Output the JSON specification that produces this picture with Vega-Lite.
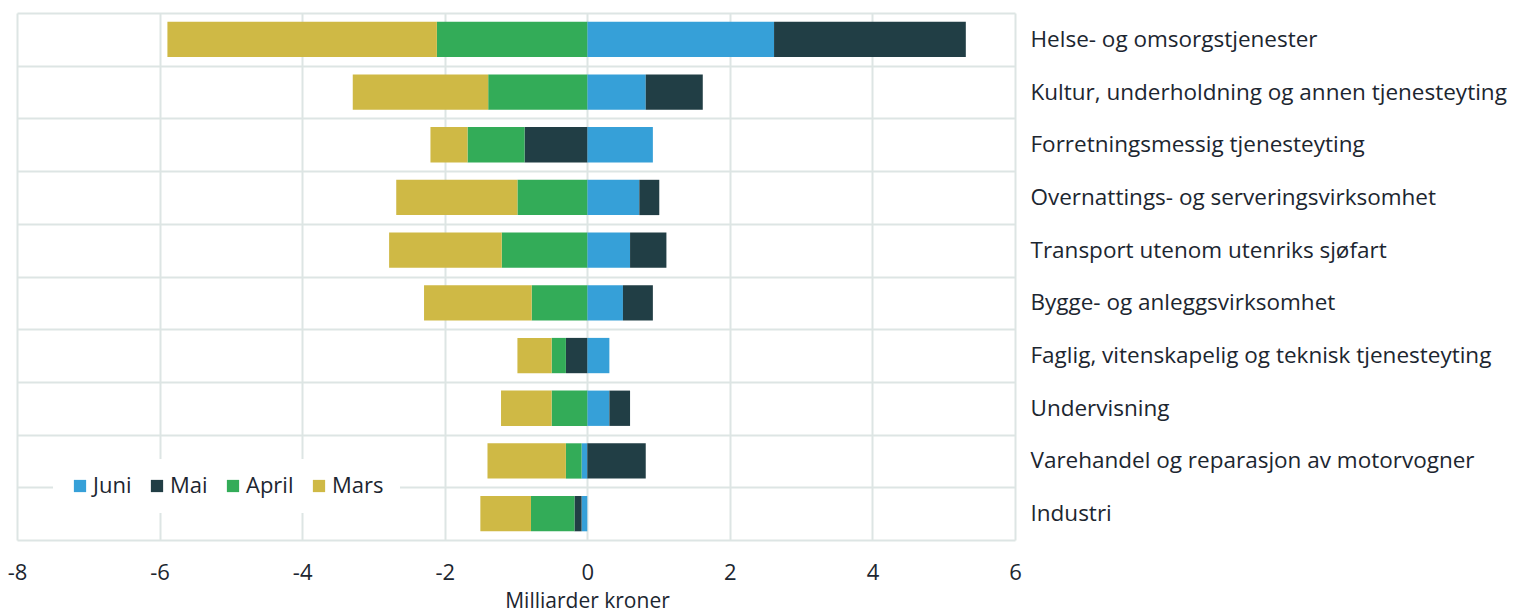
{
  "$schema": "https://vega.github.io/schema/vega-lite/v6.json",
  "width": 998,
  "height": 527,
  "autosize": {"type": "none"},
  "padding": {"left": 17, "top": 13, "right": 506, "bottom": 75},
  "background": "white",
  "config": {
    "font": "Open Sans",
    "view": {"stroke": null},
    "axis": {"labelColor": "#1c2630", "titleColor": "#1c2630", "gridColor": "#dde5e4", "gridWidth": 2}
  },
  "data": {
    "values": [
      {"naering": "Helse- og omsorgstjenester", "maned": "Juni", "verdi": 2.62},
      {"naering": "Helse- og omsorgstjenester", "maned": "Mai", "verdi": 2.69},
      {"naering": "Helse- og omsorgstjenester", "maned": "April", "verdi": -2.11},
      {"naering": "Helse- og omsorgstjenester", "maned": "Mars", "verdi": -3.78},
      {"naering": "Kultur, underholdning og annen tjenesteyting", "maned": "Juni", "verdi": 0.82},
      {"naering": "Kultur, underholdning og annen tjenesteyting", "maned": "Mai", "verdi": 0.8},
      {"naering": "Kultur, underholdning og annen tjenesteyting", "maned": "April", "verdi": -1.39},
      {"naering": "Kultur, underholdning og annen tjenesteyting", "maned": "Mars", "verdi": -1.9},
      {"naering": "Forretningsmessig tjenesteyting", "maned": "Juni", "verdi": 0.92},
      {"naering": "Forretningsmessig tjenesteyting", "maned": "Mai", "verdi": -0.88},
      {"naering": "Forretningsmessig tjenesteyting", "maned": "April", "verdi": -0.8},
      {"naering": "Forretningsmessig tjenesteyting", "maned": "Mars", "verdi": -0.52},
      {"naering": "Overnattings- og serveringsvirksomhet", "maned": "Juni", "verdi": 0.73},
      {"naering": "Overnattings- og serveringsvirksomhet", "maned": "Mai", "verdi": 0.28},
      {"naering": "Overnattings- og serveringsvirksomhet", "maned": "April", "verdi": -0.98},
      {"naering": "Overnattings- og serveringsvirksomhet", "maned": "Mars", "verdi": -1.7},
      {"naering": "Transport utenom utenriks sjøfart", "maned": "Juni", "verdi": 0.6},
      {"naering": "Transport utenom utenriks sjøfart", "maned": "Mai", "verdi": 0.51},
      {"naering": "Transport utenom utenriks sjøfart", "maned": "April", "verdi": -1.2},
      {"naering": "Transport utenom utenriks sjøfart", "maned": "Mars", "verdi": -1.58},
      {"naering": "Bygge- og anleggsvirksomhet", "maned": "Juni", "verdi": 0.5},
      {"naering": "Bygge- og anleggsvirksomhet", "maned": "Mai", "verdi": 0.42},
      {"naering": "Bygge- og anleggsvirksomhet", "maned": "April", "verdi": -0.78},
      {"naering": "Bygge- og anleggsvirksomhet", "maned": "Mars", "verdi": -1.51},
      {"naering": "Faglig, vitenskapelig og teknisk tjenesteyting", "maned": "Juni", "verdi": 0.31},
      {"naering": "Faglig, vitenskapelig og teknisk tjenesteyting", "maned": "Mai", "verdi": -0.3},
      {"naering": "Faglig, vitenskapelig og teknisk tjenesteyting", "maned": "April", "verdi": -0.2},
      {"naering": "Faglig, vitenskapelig og teknisk tjenesteyting", "maned": "Mars", "verdi": -0.48},
      {"naering": "Undervisning", "maned": "Juni", "verdi": 0.31},
      {"naering": "Undervisning", "maned": "Mai", "verdi": 0.29},
      {"naering": "Undervisning", "maned": "April", "verdi": -0.5},
      {"naering": "Undervisning", "maned": "Mars", "verdi": -0.71},
      {"naering": "Varehandel og reparasjon av motorvogner", "maned": "Juni", "verdi": -0.08},
      {"naering": "Varehandel og reparasjon av motorvogner", "maned": "Mai", "verdi": 0.82},
      {"naering": "Varehandel og reparasjon av motorvogner", "maned": "April", "verdi": -0.22},
      {"naering": "Varehandel og reparasjon av motorvogner", "maned": "Mars", "verdi": -1.1},
      {"naering": "Industri", "maned": "Juni", "verdi": -0.08},
      {"naering": "Industri", "maned": "Mai", "verdi": -0.1},
      {"naering": "Industri", "maned": "April", "verdi": -0.61},
      {"naering": "Industri", "maned": "Mars", "verdi": -0.71}
    ]
  },
  "transform": [
    {"calculate": "indexof(['Juni', 'Mai', 'April', 'Mars'], datum.maned)", "as": "rekkefolge"}
  ],
  "mark": {"type": "bar", "height": {"band": 0.67}},
  "encoding": {
    "y": {
      "field": "naering",
      "type": "nominal",
      "sort": null,
      "scale": {"paddingInner": 0, "paddingOuter": 0},
      "axis": {
        "orient": "right",
        "title": null,
        "grid": true,
        "tickBand": "extent",
        "domain": false,
        "ticks": false,
        "labelFontSize": 22.5,
        "labelPadding": 15,
        "labelLimit": 0
      }
    },
    "x": {
      "field": "verdi",
      "type": "quantitative",
      "stack": "zero",
      "scale": {"domain": [-8, 6], "nice": false},
      "axis": {
        "values": [-8, -6, -4, -2, 0, 2, 4, 6],
        "labelExpr": "'' + datum.value",
        "labelFlush": false,
        "title": "Milliarder kroner",
        "titleFontSize": 21,
        "titleFontWeight": "normal",
        "titleX": 570,
        "titlePadding": 7,
        "grid": true,
        "domain": false,
        "ticks": false,
        "labelFontSize": 22,
        "labelPadding": 22
      }
    },
    "order": {"field": "rekkefolge", "type": "quantitative", "sort": "ascending"},
    "color": {
      "field": "maned",
      "type": "nominal",
      "sort": ["Juni", "Mai", "April", "Mars"],
      "scale": {
        "domain": ["Juni", "Mai", "April", "Mars"],
        "range": ["#36a0d8", "#213e45", "#33ac58", "#cfb945"]
      },
      "legend": {
        "orient": "none",
        "direction": "horizontal",
        "title": null,
        "legendX": 36,
        "legendY": 446,
        "fillColor": "white",
        "padding": 16,
        "symbolType": "square",
        "symbolSize": 150,
        "symbolStrokeWidth": 0,
        "labelFontSize": 22,
        "labelColor": "#1c2630",
        "labelOffset": 2,
        "columnPadding": 14
      }
    }
  }
}
